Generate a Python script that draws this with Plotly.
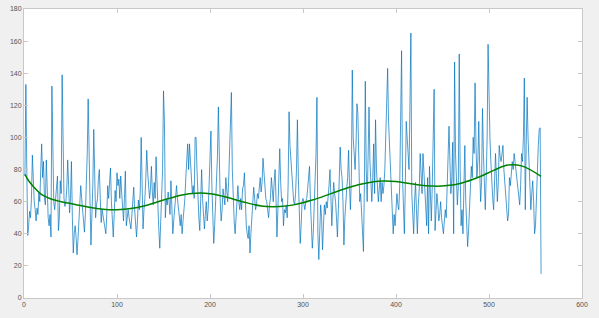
import plotly.graph_objects as go

signal = [
    76, 133, 80, 39, 45, 54, 50, 62, 89, 72,
    60, 55, 48, 56, 52, 66, 60, 80, 96, 75,
    85, 62, 58, 86, 66, 50, 45, 52, 38, 132,
    95, 60, 55, 62, 68, 76, 42, 50, 73, 65,
    139, 80, 62, 57, 60, 68, 86, 70, 53, 62,
    85, 50, 28, 40, 45, 38, 27, 36, 48, 56,
    70, 62, 55, 48, 41, 52, 66, 90, 124, 72,
    60, 33, 52, 70, 105, 65, 50, 58, 62, 74,
    80, 62, 47, 55, 51, 48, 45, 40, 52, 70,
    62, 72, 81, 60, 45, 38, 52, 67, 60, 78,
    70, 74, 62, 76, 66, 55, 48, 62, 79, 45,
    50, 55, 50, 45, 43, 52, 60, 69, 55, 45,
    38, 48, 61, 55, 66, 100, 60, 43, 55, 62,
    75, 92, 78, 70, 62, 68, 82, 66, 58, 72,
    62, 88, 70, 55, 42, 31, 45, 62, 80, 129,
    110, 50, 62, 58, 66, 60, 52, 73, 55, 40,
    48, 56, 64, 70, 62, 55, 50, 45, 52, 40,
    48, 55, 62, 75, 85, 96, 80, 96, 85, 72,
    65, 70, 62, 100, 100, 80, 60, 50, 42, 58,
    80, 62, 55, 43, 52, 60, 48, 55, 70, 85,
    104, 70, 48, 34, 45, 60, 72, 88, 119, 75,
    60, 48, 55, 68, 62, 58, 75, 66, 60, 72,
    90, 100, 128, 80, 58, 48, 40, 52, 62, 70,
    60, 55, 62, 55, 68, 70, 78, 60, 45, 40,
    37, 45, 28, 40, 52, 60, 69, 62, 55, 58,
    65, 62, 70, 75, 66, 72, 87, 78, 68, 62,
    60, 55, 50, 58, 62, 75, 68, 60, 72, 80,
    62, 38, 55, 70, 93, 72, 60, 62, 45, 55,
    53, 58, 50, 70, 116, 95, 85, 72, 65, 60,
    58, 65, 80, 111, 75, 52, 34, 45, 60, 62,
    58, 55, 60, 62, 68, 75, 82, 60, 45, 31,
    40, 57, 70, 90, 125, 40, 24, 40, 58, 50,
    30, 45, 58, 52, 60, 56, 62, 70, 80, 62,
    45, 60, 72, 65, 60, 50, 38, 55, 70, 94,
    80, 75, 60, 33, 50, 62, 68, 75, 92, 70,
    55, 75, 142, 100, 90, 80, 95, 121, 115, 82,
    60, 65, 55, 45, 29, 70, 135, 80, 60, 88,
    119, 85, 70, 60, 75, 96, 65, 111, 80, 65,
    60, 68, 75, 60, 72, 65, 70, 80, 105, 120,
    143, 110, 95, 82, 75, 60, 40, 52, 45, 55,
    65, 58, 55, 70, 110, 154, 75, 55, 40, 70,
    110, 100, 92, 80, 120, 165, 65, 55, 40, 60,
    72, 55, 40, 58, 68, 90, 75, 65, 90, 78,
    70, 62, 45, 75, 40, 82, 60, 48, 70, 95,
    130, 42, 55, 65, 58, 48, 52, 60, 50, 45,
    40, 48, 55, 50, 72, 80, 107, 85, 65, 75,
    97, 40, 147, 90, 65, 58, 70, 152, 80, 45,
    55, 40, 68, 95, 60, 50, 32, 42, 60, 70,
    82, 75, 100, 90, 134, 95, 75, 85, 110, 80,
    60, 72, 118, 90, 70, 55, 75, 100, 158, 120,
    100, 85, 70, 62, 55, 72, 90, 75, 60, 72,
    95, 88, 85, 90, 95, 80, 70, 60, 55, 48,
    52, 75, 70, 78, 85, 80, 90, 85, 80, 72,
    70, 65, 58, 70, 90, 85, 100, 137, 55, 95,
    125, 100, 80, 62, 55, 65, 73, 60, 40, 45,
    65, 80, 95, 105, 106, 15,
]
signal_x = list(range(1, len(signal) + 1))

trend_x = [1, 5, 10, 20, 30, 40, 55, 70, 85, 100, 115, 130, 150, 170, 185,
           200, 215, 235, 255, 275, 290, 310, 330, 350, 370, 385, 400, 420,
           440, 455, 470, 490, 505, 520, 535, 556]
trend_y = [77, 73, 69.5, 64, 61.5, 60, 58.3, 56.5, 55.3, 55, 55.7, 57.5, 61,
           64.2, 65.3, 65, 63.2, 60, 57.3, 57, 58, 61, 65, 69, 71.8, 72.8,
           72.5, 70.8, 69.7, 70, 71.5, 75.5, 79.5, 82.8, 82.3, 75.8]

x_ticks = [0, 100, 200, 300, 400, 500, 600]
y_ticks = [0, 20, 40, 60, 80, 100, 120, 140, 160, 180]

fig = go.Figure()
fig.add_trace(go.Scatter(x=signal_x, y=signal, mode="lines",
                         line=dict(color="#0072BD", width=0.7),
                         showlegend=False, hoverinfo="skip"))
fig.add_trace(go.Scatter(x=trend_x, y=trend_y, mode="lines",
                         line=dict(color="#008000", width=1.5, shape="spline"),
                         showlegend=False, hoverinfo="skip"))

axis_common = dict(showgrid=False, zeroline=False, showline=True,
                   linecolor="#c8c8c8", linewidth=1, mirror="ticks",
                   ticks="inside", ticklen=4, tickcolor="#c8c8c8",
                   automargin=False,
                   tickfont=dict(family="Liberation Sans", size=7, color="#555555"))

fig.update_layout(
    width=599, height=318,
    margin=dict(l=24, r=17, t=9, b=20),
    paper_bgcolor="#f0f0f0", plot_bgcolor="white",
    xaxis=dict(range=[0, 600], tickvals=x_ticks, **axis_common),
    yaxis=dict(range=[0, 180], tickvals=y_ticks, **axis_common),
)

fig.write_html("out.html", config={"displayModeBar": False, "staticPlot": True})

with open("out.html", "r", encoding="utf-8") as f:
    html = f.read()
html = html.replace("<head>", "<head><style>html,body{margin:0;padding:0;background:#f0f0f0;overflow:hidden;}</style>", 1)
with open("out.html", "w", encoding="utf-8") as f:
    f.write(html)
